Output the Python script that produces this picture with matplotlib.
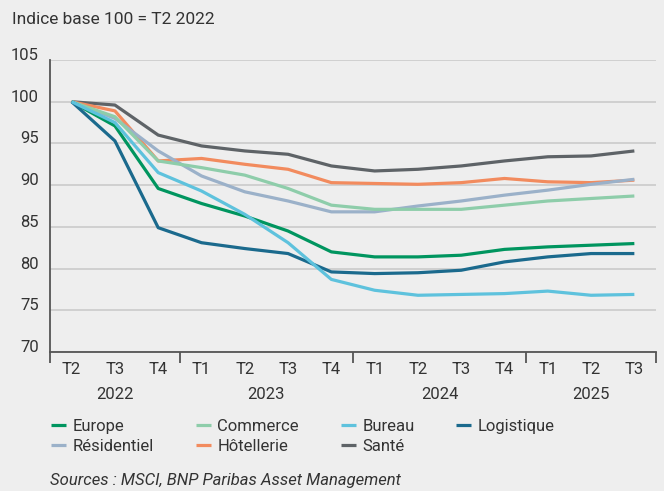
import matplotlib
matplotlib.use("Agg")
import matplotlib.pyplot as plt
from matplotlib.font_manager import fontManager
from matplotlib.transforms import blended_transform_factory

names = {f.name for f in fontManager.ttflist}
fam = [f for f in ["Liberation Sans Narrow", "Roboto", "DejaVu Sans"] if f in names]
plt.rcParams['font.family'] = fam

quarters = ["T2", "T3", "T4", "T1", "T2", "T3", "T4", "T1", "T2", "T3", "T4", "T1", "T2", "T3"]
years = ["2022", "2023", "2024", "2025"]
year_groups = [3, 4, 4, 3]

europe = [100, 97.1, 89.6, 87.8, 86.3, 84.5, 82.0, 81.4, 81.4, 81.6, 82.3, 82.6, 82.8, 83.0]
commerce = [100, 98.2, 92.9, 92.1, 91.2, 89.6, 87.6, 87.1, 87.1, 87.1, 87.6, 88.1, 88.4, 88.7]
bureau = [100, 97.5, 91.5, 89.3, 86.5, 83.1, 78.7, 77.4, 76.8, 76.9, 77.0, 77.3, 76.8, 76.9]
logistique = [100, 95.3, 84.9, 83.1, 82.4, 81.8, 79.6, 79.4, 79.5, 79.8, 80.8, 81.4, 81.8, 81.8]
residentiel = [100, 98.0, 94.1, 91.1, 89.2, 88.1, 86.8, 86.8, 87.5, 88.1, 88.8, 89.4, 90.1, 90.7]
hotellerie = [100, 98.9, 92.9, 93.2, 92.5, 91.9, 90.3, 90.2, 90.1, 90.3, 90.8, 90.4, 90.3, 90.6]
sante = [100, 99.6, 96.0, 94.7, 94.1, 93.7, 92.3, 91.7, 91.9, 92.3, 92.9, 93.4, 93.5, 94.1]

series = [
    ("Europe", europe, "#00955F"),
    ("Commerce", commerce, "#8ECDAA"),
    ("Bureau", bureau, "#5EC2DD"),
    ("Logistique", logistique, "#1B6A8D"),
    ("Résidentiel", residentiel, "#9BB1C9"),
    ("Hôtellerie", hotellerie, "#F28B5E"),
    ("Santé", sante, "#5E6367"),
]

bg = "#EEEEEE"
txt = "#333333"
fig = plt.figure(figsize=(6.64, 4.91), dpi=100, facecolor=bg)
ax = fig.add_axes([50/664, 1-352/491, 606/664, 292/491], facecolor=bg)

x = list(range(len(quarters)))
order = [6, 5, 4, 1, 0, 3, 2]
lines = {}
for i in order:
    name, vals, col = series[i]
    ln, = ax.plot(x, vals, color=col, lw=2.3, label=name, solid_capstyle='butt', zorder=3)
    lines[name] = ln

ax.set_xlim(-0.5, len(quarters) - 0.5)
ax.set_ylim(70, 105)
ax.set_yticks([70, 75, 80, 85, 90, 95, 100, 105])
ax.yaxis.grid(True, color="#CDCDCD", lw=1.3)
ax.set_axisbelow(True)
ax.tick_params(axis='y', length=0, pad=8, labelsize=12, labelcolor=txt)
for lab in ax.get_yticklabels():
    lab.set_verticalalignment('baseline')

for s in ["top", "right"]:
    ax.spines[s].set_visible(False)
for s in ["left", "bottom"]:
    ax.spines[s].set_color("#555555")
    ax.spines[s].set_linewidth(1.3)

bounds = [-0.5]
c = -0.5
for g in year_groups:
    c += g
    bounds.append(c)
ax.set_xticks(bounds)
ax.set_xticklabels([])
ax.tick_params(axis='x', which='major', length=8, width=1.3, color="#555555")
ax.set_xticks(x, minor=True)
ax.set_xticklabels(quarters, minor=True)
ax.tick_params(axis='x', which='minor', length=0, pad=7, labelsize=12, labelcolor=txt)

trans = blended_transform_factory(ax.transData, ax.transAxes)
start = 0
for yname, g in zip(years, year_groups):
    center = start + (g - 1) / 2
    ax.text(center, -0.145, yname, transform=trans, ha='center', va='center', fontsize=12, color=txt)
    start += g

fig.text(12/664, 1-20/491, "Indice base 100 = T2 2022", ha='left', va='center', fontsize=12.5, color=txt)

leg_order = ["Europe", "Résidentiel", "Commerce", "Hôtellerie", "Bureau", "Santé", "Logistique"]
handles = [lines[n] for n in leg_order]
leg = fig.legend(handles, leg_order, ncol=4, loc='upper left',
                 bbox_to_anchor=(36/664, 1-404/491), frameon=False, fontsize=12,
                 handlelength=0.9, handletextpad=0.4, columnspacing=2.5,
                 labelspacing=0.3, labelcolor=txt)

fig.text(50/664, 1-481/491, "Sources : MSCI, BNP Paribas Asset Management", ha='left', va='center',
         fontsize=12, style='italic', color=txt)

fig.savefig("out.png", dpi=100, facecolor=bg)
